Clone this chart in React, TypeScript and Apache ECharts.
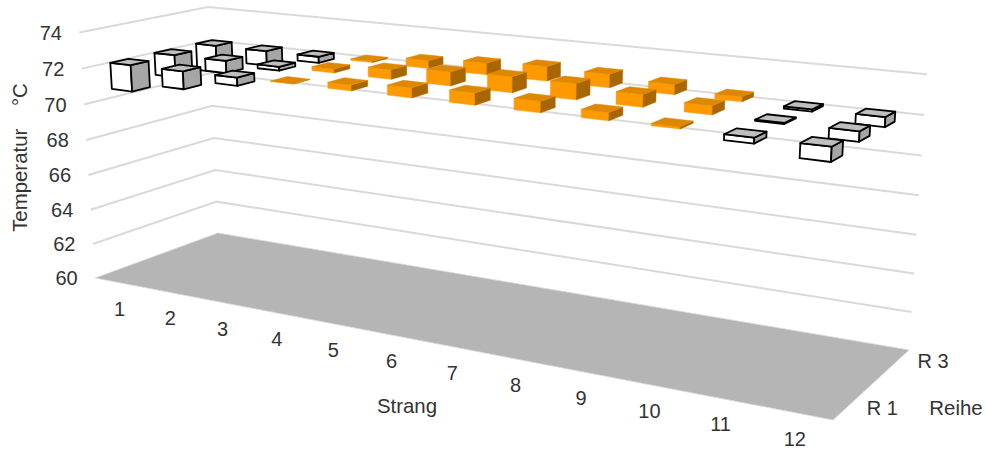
import React, { useEffect, useRef } from "react";
import * as echarts from "echarts";

// ---- data ----
const strandLabels = ["1", "2", "3", "4", "5", "6", "7", "8", "9", "10", "11", "12"];
const rowLabels = ["R 1", "R 2", "R 3"];
const shownRowLabels = ["R 1", "R 3"];
const temperatureTicks = [60, 62, 64, 66, 68, 70, 72, 74];
const referenceTemperature = 72.25;
const row1Values = [70.79, 71.27, 71.81, 72.27, 72.55, 72.76, 72.86, 72.81, 72.65, 72.36, 71.98, 71.56];
const row2Values = [70.99, 71.57, 72.04, 72.46, 72.76, 72.98, 73.07, 73.07, 72.88, 72.7, 72.2, 71.76];
const row3Values = [70.7, 71.42, 71.9, 72.32, 72.68, 72.87, 73.02, 72.95, 72.77, 72.5, 72.14, 71.76];

// ---- 3D camera of the chart (perspective projection) ----
const AXIS_MIN = 60;
const AXIS_MAX = 74;
const project = (strand: number, row: number, temp: number): [number, number] => {
  const u = echarts.number.linearMap(strand, [0, strandLabels.length], [0, 1]);
  const v = echarts.number.linearMap(row, [0, rowLabels.length], [0, 1]);
  const z = echarts.number.linearMap(temp, [AXIS_MIN, AXIS_MAX], [0, 1]);
  const w = 1 - 0.2057 * u + 0.0906 * v - 0.037 * z;
  return [
    (566.7 * u + 142.75 * v - 18.6 * z + 95) / w,
    (55.6 * u - 23.9 * v - 246.8 * z + 278) / w,
  ];
};

const FONT = '"Liberation Sans", Arial, sans-serif';
const TEXT = "#333333";
const TICK_SIZE = 20;
const TITLE_SIZE = 20.4;
const BAR_LO = 0.3;
const BAR_HI = 0.7;

const label = (text: string, x: number, y: number, fontSize = TICK_SIZE, rotation = 0) => ({
  type: "text",
  x,
  y,
  rotation,
  silent: true,
  style: {
    text,
    fill: TEXT,
    fontFamily: FONT,
    fontSize,
    align: "center",
    verticalAlign: "middle",
    textAlign: "center",
    textVerticalAlign: "middle",
  },
});

const face = (points: number[][], fill: string, stroke: string | null) => ({
  type: "polygon",
  shape: { points },
  style: stroke
    ? { fill, stroke, lineWidth: 1.8, lineJoin: "round" }
    : { fill, stroke: fill, lineWidth: 0.5 },
});

const renderBar = (_: any, api: any) => {
  const s = api.value(0) as number;
  const r = api.value(1) as number;
  const t = api.value(2) as number;
  const below = t < referenceTemperature;
  const lo = Math.min(t, referenceTemperature);
  const hi = Math.max(t, referenceTemperature);
  const s0 = s + BAR_LO, s1 = s + BAR_HI, r0 = r + BAR_LO, r1 = r + BAR_HI;
  const stroke = below ? "#000000" : null;
  return {
    type: "group",
    children: [
      face([project(s0, r0, hi), project(s1, r0, hi), project(s1, r0, lo), project(s0, r0, lo)], below ? "#FFFFFF" : "#FF9900", stroke),
      face([project(s1, r0, hi), project(s1, r1, hi), project(s1, r1, lo), project(s1, r0, lo)], below ? "#A6A6A6" : "#A86600", stroke),
      face([project(s0, r0, hi), project(s0, r1, hi), project(s1, r1, hi), project(s1, r0, hi)], below ? "#BFBFBF" : "#DE8700", stroke),
    ],
  };
};

const renderGridLine = (_: any, api: any) => {
  const t = api.value(0) as number;
  return {
    type: "polyline",
    shape: {
      points: [project(0, 0, t), project(0, rowLabels.length, t), project(strandLabels.length, rowLabels.length, t)],
    },
    style: { fill: "none", stroke: "#D9D9D9", lineWidth: 2 },
  };
};

const renderFloor = () => ({
  type: "polygon",
  shape: {
    points: [
      project(0, 0, AXIS_MIN),
      project(0, rowLabels.length, AXIS_MIN),
      project(strandLabels.length, rowLabels.length, AXIS_MIN),
      project(strandLabels.length, 0, AXIS_MIN),
    ],
  },
  style: { fill: "#B5B5B5", stroke: "#D9D9D9", lineWidth: 0.8 },
});

export default function App() {
  const ref = useRef<HTMLDivElement>(null);
  useEffect(() => {
    const chart = echarts.init(ref.current!, null, { renderer: "svg" });
    const barData: number[][] = [];
    [row3Values, row2Values, row1Values].forEach((values, k) => {
      values.forEach((t, i) => barData.push([i, rowLabels.length - 1 - k, t]));
    });
    const nS = strandLabels.length;
    const texts: any[] = [];
    temperatureTicks.forEach((t) => {
      const [x, y] = project(0, 0, t);
      texts.push(label(String(t), x - 28.5, y + 0.3));
    });
    strandLabels.forEach((s, i) => {
      const [x, y] = project(i + 0.5, 0, AXIS_MIN);
      texts.push(label(s, x, y + 26));
    });
    shownRowLabels.forEach((name) => {
      const [x, y] = project(nS, rowLabels.indexOf(name) + 0.5, AXIS_MIN);
      texts.push(label(name, x + 35.5, y + 0.5));
    });
    texts.push(label("Strang", 407, 405.5, TITLE_SIZE));
    texts.push(label("Reihe", 956, 408, TITLE_SIZE));
    texts.push(label("Temperatur    °C", 20, 157.5, TITLE_SIZE, Math.PI / 2));
    chart.setOption({
      animation: false,
      backgroundColor: "#FFFFFF",
      graphic: { elements: texts },
      series: [
        { type: "custom", coordinateSystem: "none", z: 1, silent: true, data: temperatureTicks.slice(1).map((t) => [t]), renderItem: renderGridLine },
        { type: "custom", coordinateSystem: "none", z: 2, silent: true, data: [[AXIS_MIN]], renderItem: renderFloor },
        { type: "custom", coordinateSystem: "none", z: 3, silent: true, data: barData, renderItem: renderBar },
      ],
    });
    return () => chart.dispose();
  }, []);
  return <div ref={ref} style={{ position: "fixed", left: 0, top: 0, width: 986, height: 452 }} />;
}
